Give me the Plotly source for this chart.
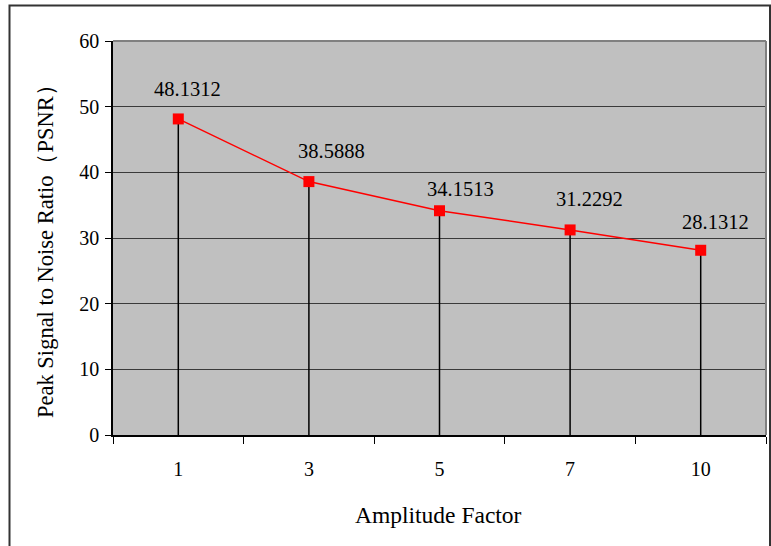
import plotly.graph_objects as go

categories = ["1", "3", "5", "7", "10"]
psnr = [48.1312, 38.5888, 34.1513, 31.2292, 28.1312]
y_ticks = [0, 10, 20, 30, 40, 50, 60]
x_title = "Amplitude Factor"
y_title = "Peak Signal to Noise Ratio（PSNR）"

# label offsets (style)
label_dx = [9, 23, 21, 19, 15]
label_dy = [30, 31, 22, 31, 28]

FONT = "Liberation Serif"

fig = go.Figure()

# drop lines
dx, dy = [], []
for i, v in enumerate(psnr):
    dx += [i, i, None]
    dy += [0, v, None]
fig.add_trace(go.Scatter(x=dx, y=dy, mode="lines",
                         line=dict(color="black", width=1.5),
                         hoverinfo="skip", showlegend=False))

fig.add_trace(go.Scatter(x=list(range(len(categories))), y=psnr, mode="lines+markers",
                         line=dict(color="#ff0000", width=1.5),
                         marker=dict(symbol="square", size=11, color="#ff0000"),
                         showlegend=False))

for i, (v, ddx, ddy) in enumerate(zip(psnr, label_dx, label_dy)):
    fig.add_annotation(x=i, y=v, text=f"{v:.4f}", showarrow=False,
                       xshift=ddx, yshift=ddy,
                       font=dict(family=FONT, size=20.5, color="black"))

W, H = 771, 546
L, R, T, B = 113, 5, 41, 111
pw, ph = W - L - R, H - T - B

def px(x):
    return (x - L) / pw

def py(y):
    return (H - B - y) / ph

fig.add_annotation(xref="paper", yref="paper", x=px(438), y=py(515),
                   text=x_title, showarrow=False, xanchor="center", yanchor="middle",
                   font=dict(family=FONT, size=23.5, color="black"))
fig.add_annotation(xref="paper", yref="paper", x=px(45), y=py(246),
                   text=y_title, showarrow=False, textangle=-90,
                   xanchor="center", yanchor="middle",
                   font=dict(family=FONT, size=22.5, color="black"))

# plot area border (gray) top & right
fig.add_shape(type="line", xref="paper", yref="paper", x0=0, x1=1, y0=1, y1=1,
              line=dict(color="#808080", width=2), layer="above")
fig.add_shape(type="line", xref="paper", yref="paper", x0=1, x1=1, y0=0, y1=1,
              line=dict(color="#808080", width=2), layer="above")
# outer chart border
fig.add_shape(type="rect", xref="paper", yref="paper",
              x0=px(9.5), x1=px(770), y0=py(550), y1=py(5.5),
              line=dict(color="#333333", width=2), layer="above")

fig.update_layout(
    width=W, height=H,
    margin=dict(l=L, r=R, t=T, b=B),
    paper_bgcolor="white", plot_bgcolor="#c0c0c0",
    font=dict(family=FONT, size=20, color="black"),
    showlegend=False,
)
fig.update_xaxes(type="linear", range=[-0.5, 4.5],
                 tickvals=list(range(len(categories))), ticktext=categories,
                 ticks="", showline=True, linecolor="black", linewidth=1.5,
                 showgrid=False, zeroline=False, ticklabelstandoff=15,
                 tickfont=dict(family=FONT, size=20, color="black"))
# boundary ticks via minor ticks
fig.update_xaxes(minor=dict(tickvals=[-0.5, 0.5, 1.5, 2.5, 3.5, 4.5],
                            ticks="outside", ticklen=7, tickcolor="black",
                            tickwidth=1, showgrid=False))
fig.update_yaxes(range=[0, 60], tickvals=y_ticks,
                 ticks="outside", ticklen=6, tickcolor="black", tickwidth=1,
                 showline=True, linecolor="black", linewidth=1.5,
                 showgrid=True, gridcolor="#3a3a3a", gridwidth=1,
                 zeroline=False, ticklabelstandoff=2,
                 tickfont=dict(family=FONT, size=20, color="black"))

fig.write_html("out.html")
